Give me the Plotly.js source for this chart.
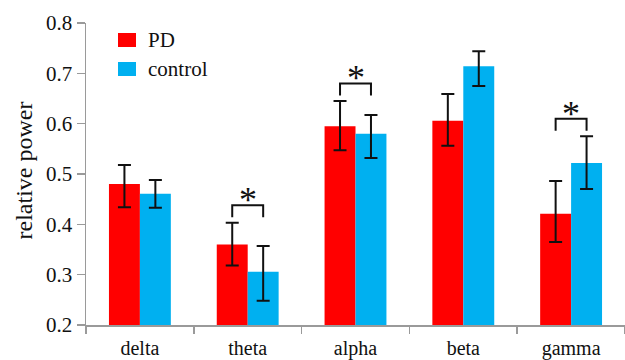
<!DOCTYPE html>
<html>
<head>
<meta charset="utf-8">
<script src="https://cdn.plot.ly/plotly-3.0.1.min.js"></script>
<style>html,body{margin:0;padding:0;background:#fff;}#chart{width:625px;height:360px;}</style>
</head>
<body>
<div id="chart"></div>
<script>
const bands = ["delta", "theta", "alpha", "beta", "gamma"];
const pdMean = [0.480, 0.360, 0.595, 0.606, 0.421];
const pdErrPlus = [0.038, 0.043, 0.050, 0.053, 0.065];
const pdErrMinus = [0.046, 0.042, 0.048, 0.050, 0.056];
const ctrlMean = [0.461, 0.306, 0.580, 0.714, 0.522];
const ctrlErrPlus = [0.027, 0.051, 0.037, 0.030, 0.053];
const ctrlErrMinus = [0.028, 0.058, 0.048, 0.039, 0.052];
const seriesNames = ["PD", "control"];
const seriesColors = ["#FF0000", "#00B0F0"];
const significant = ["theta", "alpha", "gamma"];
const yTitle = "relative power";

const FONT = "'Liberation Serif', 'Times New Roman', serif";
const W = 625, H = 360;
const M = {l: 86, r: 0, t: 23, b: 35};
const bargap = 0.426;
const barW = (1 - bargap) / 2;

const errStyle = {type: "data", symmetric: false, color: "#111", thickness: 2, width: 6.5};

const traces = [
  {type: "bar", name: seriesNames[0], x: bands, y: pdMean,
   marker: {color: seriesColors[0]},
   error_y: Object.assign({array: pdErrPlus, arrayminus: pdErrMinus}, errStyle)},
  {type: "bar", name: seriesNames[1], x: bands, y: ctrlMean,
   marker: {color: seriesColors[1]},
   error_y: Object.assign({array: ctrlErrPlus, arrayminus: ctrlErrMinus}, errStyle)}
];

const shapes = [];
const annotations = [];
significant.forEach(b => {
  const i = bands.indexOf(b);
  const top = Math.max(pdMean[i] + pdErrPlus[i], ctrlMean[i] + ctrlErrPlus[i]);
  const yl = top + 0.035;
  const yd = yl - 0.024;
  const x0 = i - barW / 2, x1 = i + barW / 2;
  shapes.push({type: "path", xref: "x", yref: "y",
    path: `M${x0},${yd} L${x0},${yl} L${x1},${yl} L${x1},${yd}`,
    line: {color: "#111", width: 2}});
  annotations.push({xref: "x", yref: "y", x: i, y: yl, text: "*", showarrow: false,
    yanchor: "bottom", yshift: -17, font: {family: FONT, size: 36, color: "#111"}});
});

// pixel -> paper helpers
const pw = W - M.l - M.r, ph = H - M.t - M.b;
const px = x => (x - M.l) / pw;
const py = y => 1 - (y - M.t) / ph;

// manual legend
const legendRows = [40, 69];
seriesNames.forEach((n, k) => {
  const cy = legendRows[k];
  shapes.push({type: "rect", xref: "paper", yref: "paper",
    x0: px(118), x1: px(136), y0: py(cy - 7), y1: py(cy + 7),
    fillcolor: seriesColors[k], line: {width: 0}});
  annotations.push({xref: "paper", yref: "paper", x: px(146), y: py(cy),
    xanchor: "left", yanchor: "middle", showarrow: false, text: n,
    font: {family: FONT, size: 21, color: "#111"}});
});

// y-axis title
annotations.push({xref: "paper", yref: "paper", x: px(23.5), y: py(171),
  xanchor: "center", yanchor: "middle", showarrow: false, textangle: -90,
  text: yTitle, font: {family: FONT, size: 24, color: "#111"}});

const layout = {
  width: W, height: H,
  margin: M,
  paper_bgcolor: "#fff", plot_bgcolor: "#fff",
  barmode: "group", bargap: bargap, bargroupgap: 0,
  font: {family: FONT, size: 18, color: "#111"},
  showlegend: false,
  xaxis: {type: "category", showgrid: false, zeroline: false,
    showline: true, linecolor: "#9a9a9a", linewidth: 1.5,
    ticks: "outside", tickson: "boundaries", ticklen: 7, tickcolor: "#9a9a9a", tickwidth: 1.5,
    ticklabelstandoff: 4,
    tickfont: {family: FONT, size: 20, color: "#111"}},
  yaxis: {range: [0.2, 0.8], tickvals: [0.2, 0.3, 0.4, 0.5, 0.6, 0.7, 0.8],
    ticktext: ["0.2", "0.3", "0.4", "0.5", "0.6", "0.7", "0.8"],
    showgrid: false, zeroline: false,
    showline: true, linecolor: "#9a9a9a", linewidth: 1.5,
    ticks: "outside", ticklen: 8, tickcolor: "#9a9a9a", tickwidth: 1.5,
    tickfont: {family: FONT, size: 21, color: "#111"}},
  shapes: shapes,
  annotations: annotations
};

Plotly.newPlot("chart", traces, layout, {displayModeBar: false, staticPlot: true});
</script>
</body>
</html>
